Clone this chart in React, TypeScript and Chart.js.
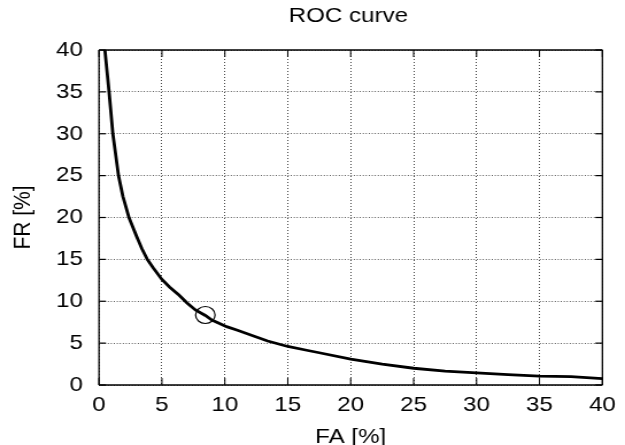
import React, { useEffect, useRef } from "react";
import { Chart, registerables } from "chart.js";

Chart.register(...registerables);

// ---- data ----
const FA = [0.47, 0.8, 1.1, 1.55, 1.9, 2.38, 3.0, 3.4, 3.84, 4.3, 5.0, 5.6, 6.35, 7.0, 7.66, 8.45, 8.97, 10.14, 11.06, 12.0, 13.4, 15.0, 16.5, 17.5, 20, 22.5, 25, 27.5, 30, 32.5, 35, 37.5, 40];
const FR = [40, 35, 30, 25, 22.5, 20, 17.7, 16.3, 15.0, 14.0, 12.6, 11.7, 10.75, 9.8, 8.96, 8.3, 7.76, 6.97, 6.5, 6.0, 5.25, 4.6, 4.15, 3.85, 3.1, 2.5, 2.0, 1.65, 1.45, 1.25, 1.07, 1.0, 0.75];
const OP_FA = [8.45];
const OP_FR = [8.36];
const X_TICKS = [0, 5, 10, 15, 20, 25, 30, 35, 40];
const Y_TICKS = [0, 5, 10, 15, 20, 25, 30, 35, 40];
const TITLE = "ROC curve";
const X_TITLE = "FA [%]";
const Y_TITLE = "FR [%]";

// ---- layout ----
const PAGE_W = 625;
const PAGE_H = 445;
const SX = 1.149; // horizontal stretch of the reference rendering
const W = Math.round(PAGE_W / SX);
const FONT = '"Liberation Sans", Arial, Helvetica, sans-serif';
const FS = 21;

const framePlugin = {
  id: "frame",
  beforeDatasetsDraw(chart: any) {
    const { ctx, chartArea, scales } = chart;
    const { left, right, top, bottom } = chartArea;
    const seg = (x1: number, y1: number, x2: number, y2: number) => {
      ctx.beginPath();
      ctx.moveTo(x1, y1);
      ctx.lineTo(x2, y2);
      ctx.stroke();
    };
    ctx.save();
    ctx.strokeStyle = "#000";
    ctx.lineWidth = 1.5;
    seg(left, top, right, top);
    seg(left, bottom, right, bottom);
    ctx.lineWidth = 1.5 / SX;
    seg(left, top, left, bottom);
    seg(right, top, right, bottom);
    ctx.lineWidth = 1.2 / SX;
    X_TICKS.forEach((v) => {
      const px = scales.x.getPixelForValue(v);
      seg(px, bottom, px, bottom - 7);
      seg(px, top, px, top + 7);
    });
    ctx.lineWidth = 1.2;
    Y_TICKS.forEach((v) => {
      const py = scales.y.getPixelForValue(v);
      seg(left, py, left + 7 / SX, py);
      seg(right, py, right - 7 / SX, py);
    });
    ctx.restore();
  },
  afterDraw(chart: any) {
    const { ctx, chartArea } = chart;
    const { left, right, top, bottom } = chartArea;
    const cx = (left + right) / 2;
    ctx.save();
    ctx.fillStyle = "#000";
    ctx.font = `${FS}px ${FONT}`;
    ctx.textAlign = "center";
    ctx.textBaseline = "alphabetic";
    ctx.fillText(TITLE, cx - 2, 22);
    ctx.fillText(X_TITLE, cx, 443);
    ctx.translate(30 / SX, (top + bottom) / 2);
    ctx.rotate(-Math.PI / 2);
    ctx.fillText(Y_TITLE, 0, 0);
    ctx.restore();
  },
};

export default function App() {
  const ref = useRef<HTMLCanvasElement | null>(null);

  useEffect(() => {
    if (!ref.current) return;
    const chart = new Chart(ref.current, {
      type: "scatter",
      data: {
        datasets: [
          {
            data: FA.map((v, i) => ({ x: v, y: FR[i] })),
            showLine: true,
            borderColor: "#000",
            borderWidth: 2.8,
            pointRadius: 0,
            tension: 0,
            fill: false,
          },
          {
            data: OP_FA.map((v, i) => ({ x: v, y: OP_FR[i] })),
            showLine: false,
            pointStyle: "circle",
            pointRadius: 8.5,
            pointBorderWidth: 1.2,
            pointBorderColor: "#000",
            pointBackgroundColor: "rgba(0,0,0,0)",
          },
        ],
      },
      options: {
        responsive: false,
        devicePixelRatio: 1,
        animation: false,
        layout: { padding: { left: 0, top: 50, right: W - 610 / SX, bottom: 0 } },
        plugins: {
          legend: { display: false },
          tooltip: { enabled: false },
          title: { display: false },
        },
        scales: {
          x: {
            type: "linear",
            min: 0,
            max: 40,
            afterBuildTicks: (s: any) => {
              s.ticks = X_TICKS.map((v) => ({ value: v }));
            },
            afterFit: (s: any) => {
              s.height = PAGE_H - 385;
            },
            ticks: {
              color: "#000",
              font: { family: FONT, size: FS },
              padding: 8,
              maxRotation: 0,
              autoSkip: false,
            },
            grid: { color: "#444", lineWidth: 1, drawTicks: false },
            border: { display: false, dash: [1, 2] },
          },
          y: {
            type: "linear",
            min: 0,
            max: 40,
            afterBuildTicks: (s: any) => {
              s.ticks = Y_TICKS.map((v) => ({ value: v }));
            },
            afterFit: (s: any) => {
              s.width = 99 / SX;
            },
            ticks: {
              color: "#000",
              font: { family: FONT, size: FS },
              padding: 14,
              autoSkip: false,
            },
            grid: { color: "#444", lineWidth: 1, drawTicks: false },
            border: { display: false, dash: [1 / SX, 2 / SX] },
          },
        },
      },
      plugins: [framePlugin],
    } as any);
    return () => chart.destroy();
  }, []);

  return (
    <div style={{ position: "fixed", left: 0, top: 0, width: PAGE_W, height: PAGE_H, background: "#fff" }}>
      <canvas
        ref={ref}
        width={W}
        height={PAGE_H}
        style={{ width: PAGE_W + "px", height: PAGE_H + "px", display: "block" }}
      />
    </div>
  );
}
